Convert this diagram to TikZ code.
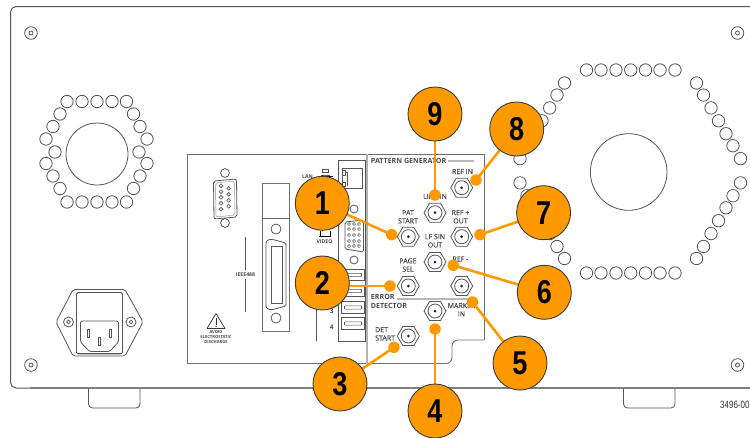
\documentclass[tikz,border=0pt]{standalone}
\usepackage{fontspec}
\setmainfont{Open Sans}
\newfontfamily\numfont[FakeStretch=0.82]{Liberation Sans}
\newfontfamily\codefont[FakeStretch=0.76]{Liberation Sans}
\newfontfamily\labfont[FakeBold=0.35]{Open Sans}
\definecolor{callout}{HTML}{FF9900}
\definecolor{ink}{HTML}{555555}
\definecolor{lab}{HTML}{4A4A4A}
\tikzset{
  thinline/.style={draw=ink,line width=0.8pt},
  panelline/.style={draw=ink!85,line width=0.9pt},
  hole/.style={thinline,fill=white},
  lbl/.style={font=\fontsize{7}{8.3}\selectfont\labfont,text=lab,inner sep=0pt,align=center},
  head/.style={font=\fontsize{7.1}{9}\selectfont\bfseries,text=lab,inner sep=0pt,align=left},
  tiny/.style={font=\fontsize{4.1}{5}\selectfont\bfseries,text=lab,inner sep=0pt,align=center},
  bubble/.style={circle,draw=ink!70!black,line width=0.9pt,fill=callout,minimum size=54pt,inner sep=0pt,
     font=\fontsize{33}{33}\selectfont\numfont\bfseries,text=black},
  dotend/.style={circle,fill=callout,minimum size=11.5pt,inner sep=0pt},
  leader/.style={draw=callout,line width=2.6pt},
  bar/.style={draw=black!28,line width=2pt},
  jack/.pic={
    \draw[thinline] (-11,0)--(-5.5,-9.5)--(5.5,-9.5)--(11,0)--(5.5,9.5)--(-5.5,9.5)--cycle;
    \draw[thinline] (0,0) circle (7);
    \fill[black!85] (0,0) circle (1.5);
  },
  screw/.pic={
    \draw[thinline] (0,0) circle (6.3);
    \draw[thinline] (0,0) circle (2);
  },
  smallscrew/.pic={
    \draw[thinline] (0,0) circle (5);
    \draw[thinline] (0,0) circle (1.9);
  }
}
\begin{document}
\begin{tikzpicture}[x=1pt,y=-1pt]
\useasboundingbox (0,0) rectangle (750,437);
% chassis
\draw[draw=ink,line width=1pt,rounded corners=5.5pt] (750,6.5)--(10.5,6.5)--(10.5,388)--(40,388);
\draw[draw=black!50,line width=1.2pt] (30,388)--(750,388);
\draw[thinline,rounded corners=4pt] (88.5,388.6)--(88.5,408)--(140,408)--(140,388.6);
\draw[thinline,rounded corners=4pt] (623.5,388.6)--(623.5,408)--(675,408)--(675,388.6);
% corner screws
\foreach \p in {(31,33),(31,365),(737.5,33),(737.5,365)} \path \p pic {screw};
% left fan
\draw[thinline] (97,154) circle (31);
\foreach \p in {(67,101.5),(82,101.5),(97,101.5),(112,101.5),(126.5,101.5),
  (60,114),(53,126.5),(46,139),(55,152),(46,163.5),(53,176),(60,188.5),
  (67,202),(82,202),(97,202),(112,202),(126.5,202),
  (133.5,114),(140,126.5),(147,139),(139,152),(147,163.5),(140,176),(133.5,188.5)}
  \draw[thinline] \p circle (6.2);
% right fan
\draw[thinline] (628.7,172) circle (38.3);
\foreach \x in {586.5,601,616,630.7,645.5,660,675} {
  \draw[thinline] (\x,70) circle (6.2);
  \draw[thinline] (\x,273) circle (6.2);
}
\foreach \a/\b in {696.5/564.5,703.5/557,711/549.7,718.5/542,726/534.7,733/527,740.5/520} {
  \pgfmathsetmacro\i{(\a-696.5)/7.33}
  \pgfmathsetmacro\yu{83+12.6*\i}
  \pgfmathsetmacro\yl{258.5-12.6*\i}
  \draw[thinline] (\a,\yu) circle (6.2);
  \draw[thinline] (\a,\yl) circle (6.2);
  \draw[thinline] (\b,\yu) circle (6.2);
  \draw[thinline] (\b,\yl) circle (6.2);
}
% power inlet
\draw[thinline,rounded corners=2pt] (56,322)--(73,289.5)--(125,289.5)--(143,322)--(125,356)--(73,356)--cycle;
\draw[thinline,rounded corners=1.5pt] (76.5,292.5) rectangle (122.5,354);
\draw[thinline,rounded corners=1.5pt] (80.5,321)--(118.5,321)--(118.5,342)--(109.5,351.5)--(89.5,351.5)--(80.5,342)--cycle;
\draw[thinline] (77,353)--(122,353);
\draw[thinline] (87,329) rectangle (89.5,337);
\draw[thinline] (109,329) rectangle (111.5,337);
\draw[thinline] (98,337.5) rectangle (100.5,345.5);
\path (68.5,322) pic {smallscrew};
\path (131,322) pic {smallscrew};
% panel
\draw[panelline] (187,154)--(484,154)--(484,340);
\draw[panelline,rounded corners=6pt] (484,340)--(452,340)--(452,363.5)--(187,363.5);
\draw[panelline] (187,363.5)--(187,154);
\draw[draw=black!30,line width=1.4pt] (367,154)--(367,363.5);
\draw[thinline] (338,341)--(338,160)--(365,160)--(365,341)--cycle;
\draw[thinline] (316.7,300)--(316.7,341);
% DB9
\draw[thinline] (225,173) circle (4.4);
\draw[thinline] (225,223) circle (4.4);
\draw[thinline,rounded corners=2pt,fill=white] (213.5,181)--(236.5,179)--(237,217)--(214,219)--cycle;
\draw[draw=ink!60,line width=0.5pt,rounded corners=2pt] (215.5,183)--(234.5,181)--(235,215)--(216,217)--cycle;
\foreach \y in {185.7,191.7,197.3,203.3,209.3} \draw[thinline,line width=0.6pt] (221,\y) circle (1.9);
\foreach \y in {188.3,194.3,200.3,206.3} \draw[thinline,line width=0.6pt] (228.7,\y) circle (1.9);
% IEEE488
\draw[panelline] (262.5,183.5) rectangle (289,331);
\draw[panelline] (262.5,218) -- (289,218);
\draw[thinline] (276,229) circle (5);
\draw[thinline] (276,318) circle (5);
\draw[thinline,rounded corners=1.5pt] (266,241)--(271,239)--(286,243)--(286,306)--(271,310)--(266,308)--cycle;
\draw[thinline] (271,246) rectangle (282,303);
\draw[thinline] (245.5,237)--(245.5,270);
\draw[thinline] (245.5,279)--(245.5,312);
\node[tiny,font=\fontsize{5.2}{6}\selectfont\bfseries] (ieee) at (245.5,274.5) {IEEE488};
% warning
\draw[draw=black!80,line width=0.7pt,line join=round] (216,313.5)--(225,328.5)--(207,328.5)--cycle;
\draw[draw=black!80,line width=0.9pt] (216,318)--(216,324.5);
\fill[black!80] (216,326.5) circle (0.6);
\node[tiny] (esd) at (216,337.5) {AVOID\\ELECTROSTATIC\\DISCHARGE};
% LAN / VIDEO
\node[tiny,font=\fontsize{5.2}{6}\selectfont\bfseries] (lan) at (307.5,177) {LAN};
\draw[thinline,line width=0.6pt] (322,172.5)--(322,169.5)--(328,169.5)--(328,172.5)--cycle;
\draw[thinline,line width=0.6pt] (320.5,175)--(329.5,175);
\draw[draw=black,line width=1pt] (318,176.5)--(333,176.5);
\draw[draw=black,line width=0.8pt] (319,236)--(331,236);
\draw[draw=black,line width=0.6pt] (320,231)--(320,236);
\draw[draw=black,line width=0.6pt] (330,231)--(330,236);
\node[tiny,font=\fontsize{5.2}{6}\selectfont\bfseries] (video) at (324.5,241.5) {VIDEO};
% LAN jack
\draw[thinline] (342,168.5)--(362.5,168.5)--(362.5,188)--(342,188)--cycle;
\draw[thinline,line width=0.6pt] (342,170.5) rectangle (345.5,175);
\draw[thinline,line width=0.6pt] (342,182) rectangle (345.5,186.5);
\draw[thinline,line width=0.6pt] (345.5,172)--(347,172)--(347,186);
% VGA
\draw[thinline] (354,209) circle (4);
\draw[thinline] (354,260) circle (4);
\draw[thinline,rounded corners=1.5pt] (345,222)--(363.5,220)--(363.5,252)--(345,249)--cycle;
\foreach \x in {349,354,359} \foreach \y in {224,229,235,241,246}
  \draw[thinline,line width=0.5pt] (\x,\y) circle (1.6);
% USB
\foreach \y in {275,291,307.5,323.5} {
  \draw[thinline] (341.7,\y-5.7) rectangle (364,\y+5.7);
  \draw[thinline,line width=0.6pt,rounded corners=0.5pt] (344.5,\y-1.6) rectangle (361.5,\y+1.6);
}
\node[tiny,font=\fontsize{6.5}{7}\selectfont\bfseries] (u3) at (331.7,311) {3};
\node[tiny,font=\fontsize{6.5}{7}\selectfont\bfseries] (u4) at (331.7,327) {4};
% connector jacks
\foreach \p in {(461.7,187.7),(435,212.7),(408.3,236.7),(461.7,236.7),(435,262),(408.3,286),(461.7,286),(435,311),(408.3,336)}
  \path \p pic {jack};
% labels
\node[head,anchor=west] (pg) at (370.7,161) {PATTERN GENERATOR};
\draw[bar] (448,161)--(474,161);
\draw[bar] (397,298.5)--(473,298.5);
\node[head,anchor=north west] (ed) at (370.7,294.5) {ERROR\\DETECTOR};
\node[lbl] (t1) at (462.5,171.5) {REF IN};
\node[lbl] (t2) at (435,196.3) {LINE IN};
\node[lbl] (t3) at (408,216.8) {PAT\\START};
\node[lbl] (t4) at (460.5,216.8) {REF +\\OUT};
\node[lbl] (t5) at (435,240.8) {LF SIN\\OUT};
\node[lbl] (t6) at (408,265) {PAGE\\SEL};
\node[lbl] (t7) at (460.5,259) {REF -};
\node[lbl] (t8) at (461.5,309.8) {MARKER\\IN};
\node[lbl,align=left,anchor=north west] (t9) at (375,327) {DET\\START};
\node[anchor=west,inner sep=0pt,text=black!80,font=\fontsize{10.5}{12}\selectfont\codefont] (code) at (720,405) {3496-00};
% callouts
\node[dotend] (d1) at (391.7,234.7) {};
\node[dotend] (d2) at (390,286) {};
\node[dotend] (d3) at (394,347.3) {};
\node[dotend] (d4) at (435,329) {};
\node[dotend] (d5) at (472.5,302) {};
\node[dotend] (d6) at (453.3,265.3) {};
\node[dotend] (d7) at (480,234.7) {};
\node[dotend] (d8) at (476,180) {};
\node[dotend] (d9) at (435,195) {};
\coordinate (k1) at (322.3,203.3);
\coordinate (k2) at (322.3,283);
\coordinate (k3) at (340,384);
\coordinate (k4) at (435,411);
\coordinate (k5) at (520,363);
\coordinate (k6) at (544.3,292.3);
\coordinate (k7) at (543.6,212.7);
\coordinate (k8) at (516.7,129);
\coordinate (k9) at (435,114);
\draw[leader] (d1.center)--(k1);
\draw[leader] (d2.center)--(k2 |- d2);
\draw[leader] (d3.center)--(k3);
\draw[leader] (d4.center)--(k4);
\draw[leader] (d5.center)--(k5);
\draw[leader] (d6.center)--(k6);
\draw[leader] (d7.center)--(k7);
\draw[leader] (d8.center)--(k8);
\draw[leader] (d9.center)--(k9);
\node[bubble] (c1) at (k1) {1};
\node[bubble] (c2) at (k2) {2};
\node[bubble] (c3) at (k3) {3};
\node[bubble] (c4) at (k4) {4};
\node[bubble] (c5) at (k5) {5};
\node[bubble] (c6) at (k6) {6};
\node[bubble] (c7) at (k7) {7};
\node[bubble] (c8) at (k8) {8};
\node[bubble] (c9) at (k9) {9};
\end{tikzpicture}
\end{document}
